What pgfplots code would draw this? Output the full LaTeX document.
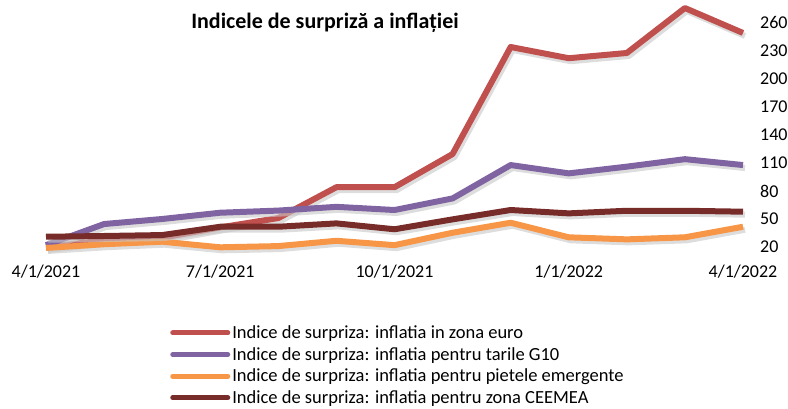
\documentclass[border=0pt]{standalone}
\usepackage{pgfplots}
\usepackage{pgfplotstable}
\pgfplotsset{compat=1.18}
\usepackage{fontspec}
\setmainfont{Carlito}
\definecolor{cred}{HTML}{C0504D}
\definecolor{cpurple}{HTML}{8064A2}
\definecolor{corange}{HTML}{F79646}
\definecolor{cdark}{HTML}{772C2A}
\pgfplotstableread{
m euro g10 em ceemea
0 20 22 19 31
1 27 44.6 23 31.8
2 30 50 25.7 32.8
3 41 56.7 19.7 41.7
4 51 59 21 41.7
5 84 63 26.7 45.3
6 84 59.6 22 39
7 119.5 72 35.3 49.6
8 234 107.7 46 59.6
9 222 98.8 30.4 56
10 227.6 106 28.2 58.8
11 275.7 114 30.4 58.8
12 249 107.7 41.7 57.8
}\data
\tikzset{shadowline/.style={draw=black!22, line width=6pt, opacity=0.6, transform canvas={shift={(2pt,-3pt)}}}}
\begin{document}
\begin{tikzpicture}[x=1pt,y=1pt]
\useasboundingbox (-46,-156.3) rectangle (742,251.7);
\begin{axis}[
  at={(0,0)}, anchor=south west,
  scale only axis, width=697pt, height=247.7pt,
  xmin=0, xmax=12, ymin=15, ymax=280,
  clip=false,
  axis line style={draw=none},
  tick style={draw=none},
  major tick length=0pt,
  xtick={0,3,6,9,12},
  xticklabels={4/1/2021,7/1/2021,10/1/2021,1/1/2022,4/1/2022},
  ytick={20,50,...,260},
  ytick pos=right, yticklabel pos=right,
  xtick pos=bottom,
  tick label style={font=\fontsize{18}{20}\selectfont, inner sep=0pt},
  /pgf/number format/assume math mode=true,
  yticklabel style={anchor=west, xshift=17pt},
  xticklabel style={anchor=center, yshift=-20.3pt},
  legend style={at={(0.178,-0.290)}, anchor=north west, draw=none, fill=none,
    font=\fontsize{18.5}{22}\selectfont, inner sep=0pt, row sep=3.3pt,
    cells={anchor=west}},
  legend cell align=left,
  legend image code/.code={\draw[#1, line width=5pt, line cap=round] (0pt,0pt) -- (55pt,0pt);},
  every axis plot/.append style={line width=6pt, line join=round, mark=none},
]
\addplot[shadowline, forget plot] table[x=m,y=euro]{\data};
\addplot[cred] table[x=m,y=euro]{\data};
\addlegendentry{Indice de surpriza: inflatia in zona euro}
\addplot[shadowline, forget plot] table[x=m,y=g10]{\data};
\addplot[cpurple] table[x=m,y=g10]{\data};
\addlegendentry{Indice de surpriza: inflatia pentru tarile G10}
\addplot[shadowline, forget plot] table[x=m,y=em]{\data};
\addplot[corange] table[x=m,y=em]{\data};
\addlegendentry{Indice de surpriza: inflatia pentru pietele emergente}
\addplot[shadowline, forget plot] table[x=m,y=ceemea]{\data};
\addplot[cdark] table[x=m,y=ceemea]{\data};
\addlegendentry{Indice de surpriza: inflatia pentru zona CEEMEA}
\end{axis}
\node[font=\fontsize{22}{26}\selectfont\bfseries, inner sep=0pt] at (279,228.7) {Indicele de surpriză a inflației};
\end{tikzpicture}
\end{document}
